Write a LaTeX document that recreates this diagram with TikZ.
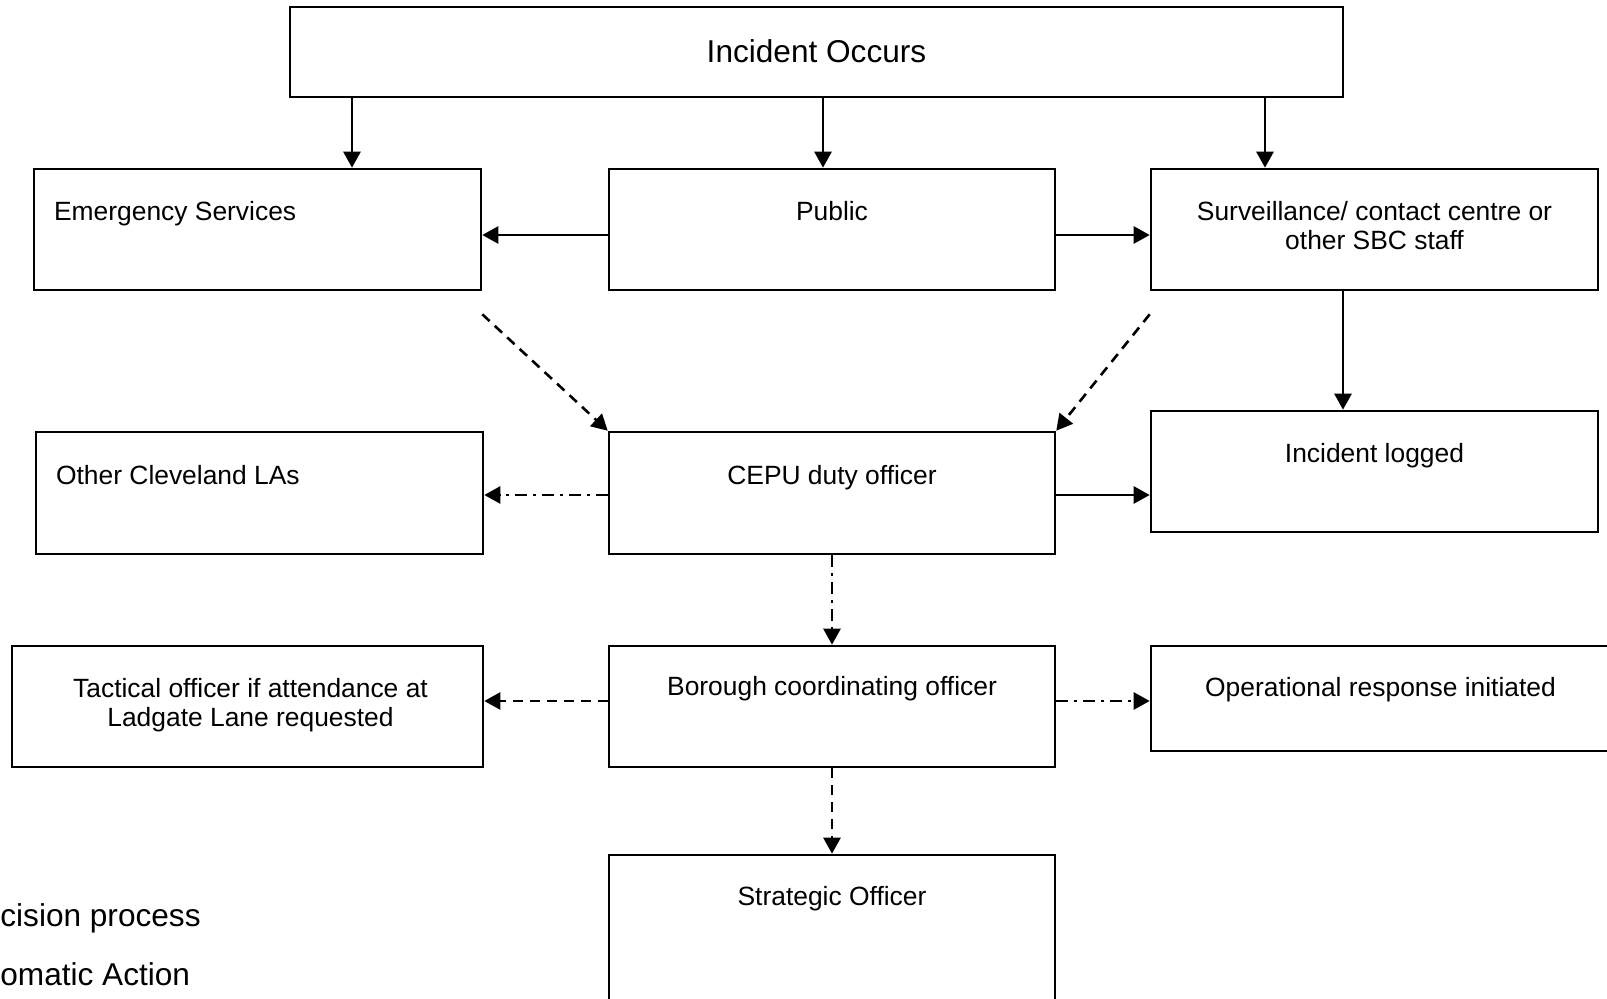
\documentclass[tikz,border=0pt]{standalone}
\usepackage{fontspec}
\setmainfont{Liberation Sans}
\usetikzlibrary{arrows.meta,calc}
\tikzset{
  box/.style={draw, line width=1.3pt, rectangle, inner sep=0pt},
  txt/.style={inner sep=0pt, font=\fontsize{13.2}{14.7}\selectfont, align=center, anchor=base},
  ltxt/.style={inner sep=0pt, font=\fontsize{13.2}{14.7}\selectfont, anchor=base west},
  bigtxt/.style={inner sep=0pt, font=\fontsize{15.8}{18}\selectfont},
  conn/.style={line width=1.3pt, -{Triangle[length=8pt,width=8.5pt]}},
  dsh/.style={conn, dash pattern=on 5pt off 3.5pt},
  dshdot/.style={conn, dash pattern=on 6pt off 3pt on 1.5pt off 3pt},
}
\begin{document}
\begin{tikzpicture}[x=0.5pt,y=-0.5pt]
\useasboundingbox (0,0) rectangle (1607,999);
\clip (0,0) rectangle (1607,999);
% boxes
\node[box, minimum width=526.5pt, minimum height=45pt] (inc) at (816.5,52) {};
\node[box, minimum width=223.5pt, minimum height=60.5pt] (es) at (257.5,229.5) {};
\node[box, minimum width=223pt, minimum height=60.5pt] (pub) at (832,229.5) {};
\node[box, minimum width=223.5pt, minimum height=60.5pt] (surv) at (1374.5,229.5) {};
\node[box, minimum width=223.5pt, minimum height=61pt] (other) at (259.5,493) {};
\node[box, minimum width=223pt, minimum height=61pt] (cepu) at (832,493) {};
\node[box, minimum width=223.5pt, minimum height=60.5pt] (logged) at (1374.5,471.5) {};
\node[box, minimum width=235.5pt, minimum height=60.5pt] (tact) at (247.5,706.5) {};
\node[box, minimum width=223pt, minimum height=60.5pt] (boro) at (832,706.5) {};
\node[box, minimum width=229.5pt, minimum height=52.5pt] (oper) at (1380.5,698.5) {};
\node[box, minimum width=223pt, minimum height=80pt] (strat) at (832,935) {};
% texts
\node[bigtxt, anchor=base] (tinc) at ($(inc.north)+(0,57)$) {Incident Occurs};
\node[ltxt] (tes) at ($(es.north west)+(21,53)$) {Emergency Services};
\node[txt] (tpub) at ($(pub.north)+(0,53)$) {Public};
\node[txt] (tsurv) at ($(surv.north)+(0,82)$) {Surveillance/ contact centre or\\other SBC staff};
\node[ltxt] (tother) at ($(other.north west)+(21,54)$) {Other Cleveland LAs};
\node[txt] (tcepu) at ($(cepu.north)+(0,54)$) {CEPU duty officer};
\node[txt] (tlogged) at ($(logged.north)+(0,53)$) {Incident logged};
\node[txt] (ttact) at ($(tact.north)+(3,82)$) {Tactical officer if attendance at\\Ladgate Lane requested};
\node[txt] (tboro) at ($(boro.north)+(0,51)$) {Borough coordinating officer};
\node[txt] (toper) at ($(oper.north)+(0,52)$) {Operational response initiated};
\node[txt] (tstrat) at ($(strat.north)+(0,52)$) {Strategic Officer};
% legend (cut off at left edge)
\node[bigtxt, anchor=base west] (leg1) at (0,926) {cision process};
\node[bigtxt, anchor=base west] (leg2) at (0,985) {omatic Action};
% helper coordinates
\coordinate (ax1) at (352,0);
\coordinate (ax2) at (823,0);
\coordinate (ax3) at (1265,0);
\coordinate (ax4) at (1343,0);
\coordinate (ay1) at (0,235);
\coordinate (ay2) at (0,495);
\coordinate (ay3) at (0,701);
% connectors
\draw[conn] (inc.south -| ax1) -- (es.north -| ax1);
\draw[conn] (inc.south -| ax2) -- (pub.north -| ax2);
\draw[conn] (inc.south -| ax3) -- (surv.north -| ax3);
\draw[conn] (pub.west |- ay1) -- (es.east |- ay1);
\draw[conn] (pub.east |- ay1) -- (surv.west |- ay1);
\draw[dsh] ($(es.south east)+(0,23)$) -- (cepu.north west);
\draw[dsh] ($(surv.south west)+(0,23)$) -- (cepu.north east);
\draw[conn] (surv.south -| ax4) -- (logged.north -| ax4);
\draw[dshdot] (cepu.west |- ay2) -- (other.east |- ay2);
\draw[conn] (cepu.east |- ay2) -- (logged.west |- ay2);
\draw[dshdot] (cepu.south) -- (boro.north);
\draw[dsh] (boro.west |- ay3) -- (tact.east |- ay3);
\draw[dshdot] (boro.east |- ay3) -- (oper.west |- ay3);
\draw[dsh] (boro.south) -- (strat.north);
\end{tikzpicture}
\end{document}
